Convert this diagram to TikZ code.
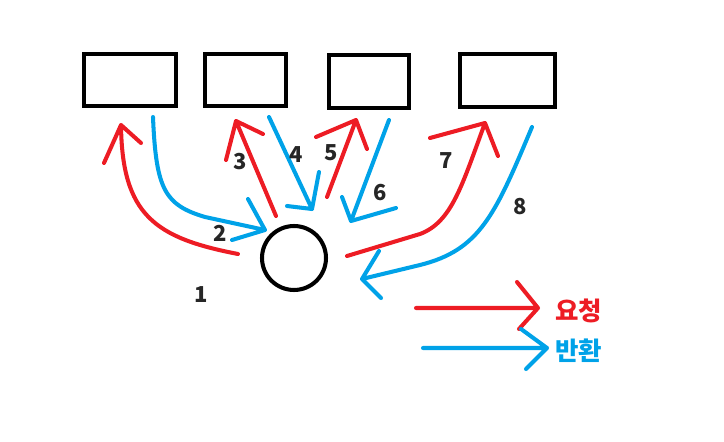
\documentclass[tikz,border=0pt]{standalone}
\usepackage{fontspec}
\newfontfamily\krfont{Noto Sans CJK KR}
\definecolor{reqred}{HTML}{ED1C24}
\definecolor{retblue}{HTML}{00A2E8}
\tikzset{
  box/.style={draw, line width=2.5pt, rectangle, minimum height=1.04cm},
  req/.style={draw=reqred, line width=2.3pt, line cap=round, line join=round},
  ret/.style={draw=retblue, line width=2.3pt, line cap=round, line join=round},
  num/.style={font=\krfont\bfseries\fontsize{12.5}{14}\selectfont, text=black!85}
}
\begin{document}
\begin{tikzpicture}[x=0.02cm, y=-0.02cm]
        \useasboundingbox (0,0) rectangle (724,442);

        % servers and client
        \node[box, minimum width=1.84cm] (srvA) at (130,80) {};
        \node[box, minimum width=1.62cm] (srvB) at (245.5,80) {};
        \node[box, minimum width=1.60cm, minimum height=1.06cm] (srvC) at (369,81.5) {};
        \node[box, minimum width=1.90cm, minimum height=1.06cm] (srvD) at (507.5,80.5) {};
        \node[draw, circle, line width=2.3pt, minimum size=1.28cm] (client) at (294,258) {};

        % 1 and 2
        \draw[req] (238,254) .. controls (155,238) and (122,215) .. (121,125) coordinate (tipA)
              (104,163) -- (tipA) -- (141,143);
        \draw[ret] (153,117) .. controls (156,190) and (165,205) .. (205,217) -- (265,230) coordinate (tipB)
              (248,199) -- (tipB) -- (232,240);

        % 3 and 4
        \draw[req] (276,216) -- (236,121) coordinate (tipC)
              (226,160) -- (tipC) -- (263,134);
        \draw[ret] (269,117) -- (312,209) coordinate (tipD)
              (319,172) -- (tipD) -- (287,206);

        % 5 and 6
        \draw[req] (327,197) -- (356,120) coordinate (tipE)
              (316,137) -- (tipE) -- (367,149);
        \draw[ret] (389,120) -- (351,221) coordinate (tipF)
              (342,197) -- (tipF) -- (396,208);

        % 7 and 8
        \draw[req] (347,256) -- (420,234) .. controls (452,222) and (462,185) .. (485,123) coordinate (tipG)
              (430,138) -- (tipG) -- (498,156);
        \draw[ret] (532,127) .. controls (495,215) and (480,250) .. (420,265) -- (362,279) coordinate (tipH)
              (379,251) -- (tipH) -- (381,298);

        % numbers
        \node[num] (n1) at (201.5,295) {1};
        \node[num] (n2) at (220.5,233) {2};
        \node[num] (n3) at (240.5,161.5) {3};
        \node[num] (n4) at (296.5,155) {4};
        \node[num] (n5) at (331,152.5) {5};
        \node[num] (n6) at (380.5,193) {6};
        \node[num] (n7) at (446.5,160.5) {7};
        \node[num] (n8) at (520,206.5) {8};

        % legend
        \draw[req] (416,308) -- (538,308) coordinate (legReq)
              (517,282) -- (legReq) -- (519,329);
        \draw[ret] (423,348) -- (547,348) coordinate (legRet)
              (521,329) -- (legRet) -- (526,369);
        \node[anchor=west, font=\krfont\bfseries\fontsize{14.5}{16}\selectfont, text=reqred] (lblReq) at (549,311) {요청};
        \node[anchor=west, font=\krfont\bfseries\fontsize{14.5}{16}\selectfont, text=retblue] (lblRet) at (549,351) {반환};
\end{tikzpicture}
\end{document}
